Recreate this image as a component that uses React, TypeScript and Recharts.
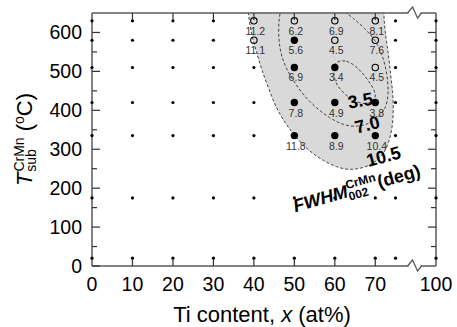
import React from "react";
import { ScatterChart, Scatter, XAxis, YAxis, ReferenceDot } from "recharts";

const FONT = "'Liberation Sans', Arial, Helvetica, sans-serif";
const FRAME = "#5a5a5a";
const SHADE = "#d9d9d9";

// x axis is broken after 75 at%, so 100 at% is drawn at this axis position
const POS_100 = 85;
const toAxis = (ti: number) => (ti === 100 ? POS_100 : ti);

const xTickValues = [0, 10, 20, 30, 40, 50, 60, 70, 100];
const xInnerTicks = [10, 20, 30, 40, 50, 60, 70];
const yTickValues = [0, 50, 100, 150, 200, 250, 300, 350, 400, 450, 500, 550, 600];

// deposition grid (Ti at%, substrate temperature)
const gridTi = [0, 10, 20, 30, 40, 50, 60, 70, 75, 100];
const gridTemp = [20, 175, 335, 420, 510, 580, 630];

// measured films
const measTi = [40, 40, 50, 50, 50, 50, 50, 60, 60, 60, 60, 60, 70, 70, 70, 70, 70];
const measTemp = [630, 580, 630, 580, 510, 420, 335, 630, 580, 510, 420, 335, 630, 580, 510, 420, 335];
const measFwhm = [11.2, 11.1, 6.2, 5.6, 6.9, 7.8, 11.8, 6.9, 4.5, 3.4, 4.9, 8.9, 8.1, 7.6, 4.5, 3.8, 10.4];
const measOpen = [true, true, true, false, false, false, false, true, true, false, false, false, true, true, true, false, false];

// FWHM contours
const c105Ti = [38.0, 42, 50, 60, 68, 72.3, 72.0, 72.5, 73.3, 73.8, 74.3, 74.5, 74.3, 73.5, 72.0, 69.6, 67.1, 63.6, 60.4, 57.2, 53.7, 51.0, 48.0, 45.5, 43.6, 41.8, 40.6, 39.4, 38.6];
const c105Temp = [700, 760, 790, 790, 760, 700, 650, 593, 542, 490, 449, 406, 362, 321, 285, 264, 252, 246, 254, 270, 295, 323, 362, 406, 457, 508, 552, 593, 650];
const c70Ti = [50.0, 56.5, 62.1, 64.6, 67.3, 70.3, 72.0, 73.0, 73.3, 72.6, 70.8, 68.3, 65.3, 62.1, 58.7, 55.4, 52.2, 49.8, 47.5, 46.3, 46.0, 46.5];
const c70Temp = [705, 705, 655, 637, 611, 578, 534, 490, 439, 406, 380, 365, 357, 362, 380, 406, 439, 475, 516, 560, 611, 670];
const c35Ti = [60.4, 62.9, 65.3, 67.3, 69.1, 70.3, 69.6, 67.5, 65.0, 63.6, 60.9, 59.7, 59.7];
const c35Temp = [526, 529, 513, 490, 465, 439, 422, 415, 423, 431, 457, 483, 513];

const contourLevels = ["3.5", "7.0", "10.5"];

const measured = measTi.map((ti, i) => ({ ti, temp: measTemp[i], fwhm: measFwhm[i], open: measOpen[i] }));
const gridDots = gridTi
  .flatMap((ti) => gridTemp.map((temp) => ({ ti, temp })))
  .filter((d) => !measured.some((m) => m.ti === d.ti && m.temp === d.temp))
  .map((d) => ({ ti: toAxis(d.ti), temp: d.temp }));
const toPts = (xs: number[], ys: number[]) => xs.map((ti, i) => ({ ti, temp: ys[i] }));
const outer = toPts(c105Ti, c105Temp);
const mid = toPts(c70Ti, c70Temp);
const inner = toPts(c35Ti, c35Temp);

const none = () => <g />;

const MeasuredMark = (p: any) => {
  const { cx, cy, payload } = p;
  return (
    <g>
      <circle cx={cx} cy={cy} r={payload.open ? 3.2 : 3.7} fill={payload.open ? "none" : "#000"} stroke="#000" strokeWidth={payload.open ? 1.1 : 0} />
      <text x={cx + 1.5} y={cy + 14} textAnchor="middle" fontSize={10.5} fontFamily={FONT} fill="#333">
        {payload.fwhm.toFixed(1)}
      </text>
    </g>
  );
};

const GridDot = (p: any) => <circle cx={p.cx} cy={p.cy} r={1.6} fill="#000" />;

const LeftTick = ({ x, y, payload }: any) => {
  const major = payload.value % 100 === 0;
  return (
    <g>
      <line x1={x} x2={x + (major ? 8 : 5)} y1={y} y2={y} stroke="#333" strokeWidth={1.2} />
      {major && (
        <text x={x - 10} y={y} dy="0.36em" textAnchor="end" fontSize={19.5} fontFamily={FONT} fill="#000">
          {payload.value}
        </text>
      )}
    </g>
  );
};

const RightTick = ({ x, y, payload }: any) => {
  const major = payload.value % 100 === 0;
  return <line x1={x - (major ? 8 : 5)} x2={x} y1={y} y2={y} stroke="#333" strokeWidth={1.2} />;
};

const BottomTick = ({ x, y, payload }: any) => {
  const v = payload.value === POS_100 ? 100 : payload.value;
  return (
    <g>
      {xInnerTicks.includes(v) && <line x1={x} x2={x} y1={y} y2={y - 7} stroke="#333" strokeWidth={1.2} />}
      <text x={x} y={y + 11} dy="0.72em" textAnchor="middle" fontSize={19.5} fontFamily={FONT} fill="#000">
        {v}
      </text>
    </g>
  );
};

const TopTick = ({ x, y }: any) => <line x1={x} x2={x} y1={y} y2={y + 7} stroke="#333" strokeWidth={1.2} />;

const XTitle = ({ viewBox }: any) => (
  <text x={viewBox.x + viewBox.width / 2 - 2} y={viewBox.y + 56} textAnchor="middle" fontSize={22} fontFamily={FONT} fill="#000">
    Ti content,<tspan fontStyle="italic">{"\u00a0x"}</tspan>
    {"\u00a0(at%)"}
  </text>
);

const YTitle = ({ viewBox }: any) => (
  <text transform={`translate(${viewBox.x + 32},${viewBox.y + viewBox.height / 2}) rotate(-90)`} textAnchor="middle" fontSize={22} fontFamily={FONT} fill="#000">
    <tspan fontStyle="italic">T</tspan>
    <tspan fontSize={14} dx={1} dy={-8}>CrMn</tspan>
    <tspan fontSize={14} dx={-34.3} dy={12}>sub</tspan>
    <tspan dx={11.7} dy={-4}>{"\u00a0("}</tspan>
    <tspan fontSize={14} dy={-8}>o</tspan>
    <tspan dy={8}>C)</tspan>
  </text>
);

const BreakMark = ({ cx, cy }: any) => (
  <g>
    <line x1={cx - 6} x2={cx + 6} y1={cy} y2={cy} stroke="#fff" strokeWidth={4} />
    <polyline points={`${cx - 7},${cy} ${cx - 2},${cy - 6} ${cx + 3},${cy + 5} ${cx + 7},${cy}`} fill="none" stroke={FRAME} strokeWidth={1.3} />
  </g>
);

const levelLabel = (text: string, angle: number) => ({ cx, cy }: any) => (
  <text transform={`translate(${cx},${cy}) rotate(${angle})`} textAnchor="middle" dy="0.36em" fontSize={18} fontWeight="bold" fontFamily={FONT} fill="#000">
    {text}
  </text>
);

const FwhmTitle = ({ cx, cy }: any) => (
  <text transform={`translate(${cx},${cy}) rotate(-16)`} fontSize={18} fontWeight="bold" fontFamily={FONT} fill="#000">
    <tspan fontStyle="italic">FWHM</tspan>
    <tspan fontSize={12} dy={-8}>CrMn</tspan>
    <tspan fontSize={12} dx={-30.7} dy={12}>002</tspan>
    <tspan dx={11.5} dy={-4}>(deg)</tspan>
  </text>
);

const contourLine = { stroke: "#444", strokeWidth: 1, strokeDasharray: "3 2" };

export default function App() {
  return (
    <div style={{ position: "absolute", left: 0, top: 0 }}>
      <ScatterChart width={457} height={327} margin={{ top: 12, right: 20, bottom: 0, left: 0 }}>
        {/* contours live on the clipped main axes and sit below the frame */}
        <Scatter data={outer} zIndex={100} line={{ ...contourLine, fill: SHADE }} lineJointType="basisClosed" shape={none} isAnimationActive={false} />
        <Scatter data={mid} zIndex={100} line={contourLine} lineJointType="basisClosed" shape={none} isAnimationActive={false} />
        <Scatter data={inner} zIndex={100} line={contourLine} lineJointType="basisClosed" shape={none} isAnimationActive={false} />
        {/* marks use the unclipped top/right axes so edge dots stay whole */}
        <Scatter data={gridDots} xAxisId="top" yAxisId="right" shape={GridDot} isAnimationActive={false} />
        <Scatter data={measured} xAxisId="top" yAxisId="right" shape={MeasuredMark} isAnimationActive={false} />

        <XAxis type="number" dataKey="ti" domain={[0, POS_100]} allowDataOverflow ticks={xTickValues.map(toAxis)} interval={0} height={61}
          tickSize={0} tickMargin={0} tick={<BottomTick />} axisLine={{ stroke: FRAME, strokeWidth: 1.5 }} label={{ content: <XTitle /> }} />
        <XAxis xAxisId="top" orientation="top" type="number" dataKey="ti" domain={[0, POS_100]} ticks={xInnerTicks} interval={0} height={1}
          tickSize={0} tickMargin={0} tick={<TopTick />} axisLine={{ stroke: FRAME, strokeWidth: 1.5 }} />
        <YAxis type="number" dataKey="temp" domain={[0, 650]} allowDataOverflow ticks={yTickValues} interval={0} width={92}
          tickSize={0} tickMargin={0} tick={<LeftTick />} axisLine={{ stroke: FRAME, strokeWidth: 1.5 }} label={{ content: <YTitle /> }} />
        <YAxis yAxisId="right" orientation="right" type="number" dataKey="temp" domain={[0, 650]} ticks={yTickValues.slice(1)} interval={0} width={1}
          tickSize={0} tickMargin={0} tick={<RightTick />} axisLine={{ stroke: FRAME, strokeWidth: 1.5 }} />

        <ReferenceDot x={79.7} y={0} r={0} ifOverflow="visible" shape={BreakMark} />
        <ReferenceDot x={79.7} y={650} r={0} ifOverflow="visible" shape={BreakMark} />
        <ReferenceDot x={66.3} y={426} r={0} shape={levelLabel(contourLevels[0], -10)} />
        <ReferenceDot x={68.0} y={364} r={0} shape={levelLabel(contourLevels[1], -15)} />
        <ReferenceDot x={72.0} y={282} r={0} shape={levelLabel(contourLevels[2], -15)} />
        <ReferenceDot x={50.2} y={138} r={0} shape={FwhmTitle} />
      </ScatterChart>
    </div>
  );
}
